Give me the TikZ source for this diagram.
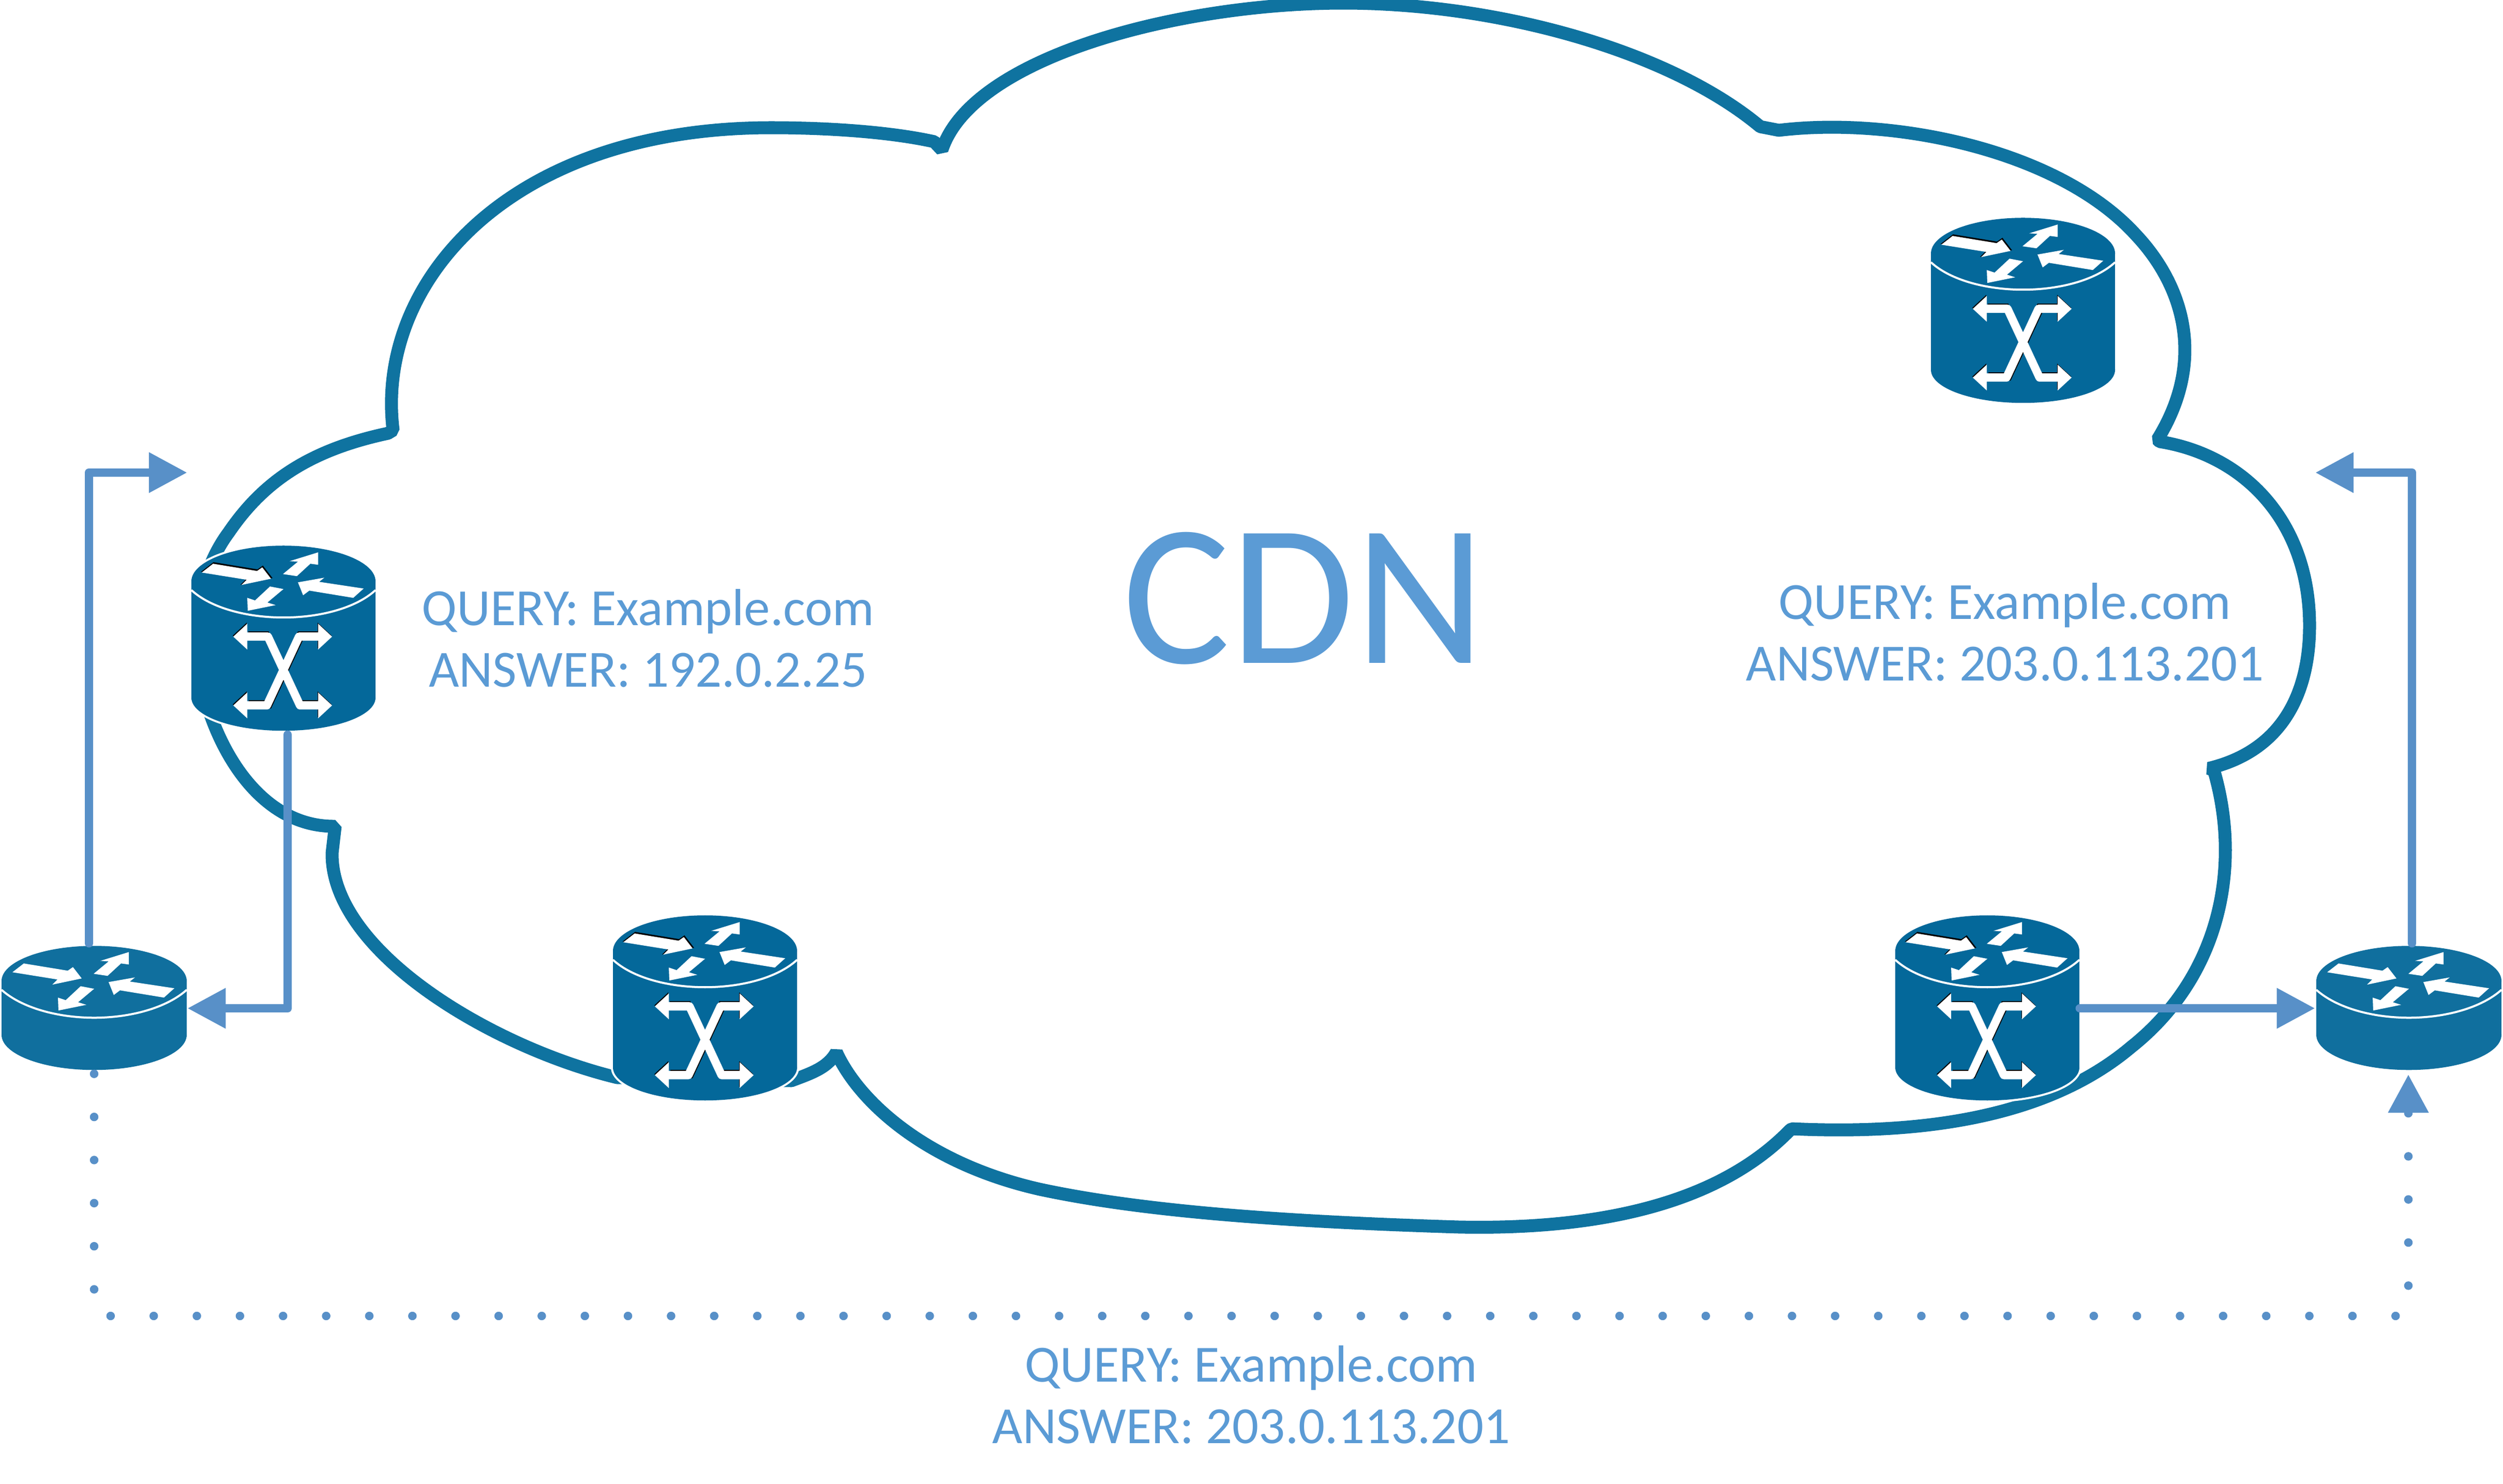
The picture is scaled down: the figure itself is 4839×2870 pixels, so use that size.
\documentclass[tikz,border=0pt]{standalone}
\usepackage{fontspec}
\setmainfont{Carlito}
\usetikzlibrary{arrows.meta}

\definecolor{cloudblue}{HTML}{0F73A0}
\definecolor{corecol}{HTML}{04689A}
\definecolor{edgecol}{HTML}{106F9E}
\definecolor{linkblue}{HTML}{5890C8}
\definecolor{textblue}{HTML}{5B9BD5}

\newcommand{\toparrows}{
    \path[fill=white] (-158,-17) -- (-136,-34) -- (-51,-20) -- (-41,-27) -- (-24,-5) -- (-81,7) -- (-71,-3) -- cycle;
    \path[fill=white] (-1,-14) -- (28,-38) -- (12,-39) -- (67,-56) -- (67,-32) -- (52,-34) -- (26,-10) -- cycle;
    \path[fill=white] (155,14) -- (135,32) -- (50,18) -- (38,27) -- (28,2) -- (79,-7) -- (69,1) -- cycle;
    \path[fill=white] (0,15) -- (-31,41) -- (-15,46) -- (-69,57) -- (-70,32) -- (-55,37) -- (-26,10) -- cycle;
}

\tikzset{
    cloudline/.style={draw=cloudblue, line width=.25cm, line join=bevel},
    link/.style={draw=linkblue, line width=.165cm, line cap=round, line join=round, -{Triangle[length=.74cm,width=.74cm,fill=linkblue]}},
    dotlink/.style={link, dash pattern=on 0pt off .833cm},
    label/.style={text=textblue, align=center, font=\fontsize{28.7}{33.8}\selectfont},
    corebox/.style={minimum width=3.56cm, minimum height=3.58cm, inner sep=0pt},
    edgebox/.style={minimum width=3.59cm, minimum height=2.40cm, inner sep=0pt},
    pics/corerouter/.style={code={
        \draw[white, line width=.08cm] (-178,0) -- (-178,225) (178,0) -- (178,225) (0,225) ellipse [x radius=178, y radius=64] (0,0) ellipse [x radius=178, y radius=69];
        \path[fill=corecol] (-178,0) rectangle (178,225);
        \path[fill=corecol] (0,225) ellipse [x radius=178, y radius=64];
        \path[fill=corecol] (0,0) ellipse [x radius=178, y radius=69];
        \draw[white, line width=.04cm] (-178,17) .. controls (-140,52) and (-70,70) .. (0,70) .. controls (70,70) and (140,52) .. (178,17);
        % shadow of the top arrow
        \draw[black, fill=black, line width=.02cm, shift={(1,-2)}] (-158,-17) -- (-136,-34) -- (-51,-20) -- (-41,-27) -- (-24,-5) -- (-81,7) -- (-71,-3) -- cycle;
        \toparrows
        % shadow of the X
        \draw[black, line width=.16cm, shift={(3,-2)}] (67,107) -- (30,107) -- (-32,240) -- (-70,240);
        \draw[black, line width=.16cm, shift={(2,-2)}] (-70,107) -- (-30,107) (32,240) -- (67,240);
        \path[fill=black, shift={(-1,-2)}] (-97,107) -- (-70,82) -- (-70,132) -- cycle;
        \path[fill=black, shift={(-1,-2)}] (94,107) -- (67,82) -- (67,132) -- cycle;
        \path[fill=black, shift={(-1,-2)}] (-97,240) -- (-70,215) -- (-70,265) -- cycle;
        \path[fill=black, shift={(-1,-2)}] (94,240) -- (67,215) -- (67,265) -- cycle;
        \draw[white, line width=.16cm, line join=round] (-70,107) -- (-30,107) -- (32,240) -- (67,240);
        \draw[white, line width=.16cm, line join=round] (67,107) -- (30,107) -- (-32,240) -- (-70,240);
        \path[fill=white] (-97,107) -- (-70,82) -- (-70,132) -- cycle;
        \path[fill=white] (94,107) -- (67,82) -- (67,132) -- cycle;
        \path[fill=white] (-97,240) -- (-70,215) -- (-70,265) -- cycle;
        \path[fill=white] (94,240) -- (67,215) -- (67,265) -- cycle;
    }},
    pics/edgerouter/.style={code={
        \path[fill=edgecol] (-179,0) rectangle (179,104);
        \path[fill=edgecol] (0,104) ellipse [x radius=179, y radius=68];
        \path[fill=edgecol] (0,0) ellipse [x radius=179, y radius=68];
        \draw[white, line width=.04cm] (-179,17) .. controls (-140,52) and (-70,71) .. (0,71) .. controls (70,71) and (140,52) .. (179,17);
        \toparrows
    }},
}

\begin{document}
\begin{tikzpicture}[x=.01cm, y=-.01cm]
    \useasboundingbox (0,0) rectangle (4839,2870);

    % cloud
    \draw[cloudline] (760,832) .. controls (725,550) and (980,247) .. (1491,247)
        .. controls (1600,247) and (1720,255) .. (1806,274) -- (1821,290)
        .. controls (1880,110) and (2280,6) .. (2597,6)
        .. controls (2900,6) and (3230,100) .. (3403,245) -- (3439,252)
        .. controls (3660,225) and (3980,290) .. (4129,454)
        .. controls (4215,545) and (4270,690) .. (4171,850) -- (4175,854)
        .. controls (4340,880) and (4465,1010) .. (4465,1210)
        .. controls (4465,1330) and (4420,1450) .. (4270,1486) -- (4280,1490)
        .. controls (4335,1680) and (4290,1890) .. (4120,2025)
        .. controls (3960,2160) and (3720,2195) .. (3464,2183) -- (3460,2186)
        .. controls (3310,2340) and (3060,2378) .. (2820,2373)
        .. controls (2500,2363) and (2220,2345) .. (2010,2300)
        .. controls (1790,2250) and (1660,2130) .. (1617,2035)
        .. controls (1600,2065) and (1570,2075) .. (1530,2090) -- (1193,2084)
        .. controls (950,2025) and (640,1840) .. (642,1650) -- (648,1598)
        .. controls (500,1600) and (410,1440) .. (385,1300)
        .. controls (370,1200) and (390,1100) .. (442,1030)
        .. controls (510,930) and (600,870) .. (750,838) -- cycle;

    % routers
    \node[corebox] (coreA) at (548,1235) {};
    \node[corebox] (coreB) at (1363,1950) {};
    \node[corebox] (coreC) at (3911,601) {};
    \node[corebox] (coreD) at (3842,1950) {};
    \node[edgebox] (edgeL) at (182,1950) {};
    \node[edgebox] (edgeR) at (4657,1950) {};
    \pic at ([yshift=-.69cm]coreA.north) {corerouter};
    \pic at ([yshift=-.69cm]coreB.north) {corerouter};
    \pic at ([yshift=-.69cm]coreC.north) {corerouter};
    \pic at ([yshift=-.69cm]coreD.north) {corerouter};
    \pic at ([yshift=-.68cm]edgeL.north) {edgerouter};
    \pic at ([yshift=-.68cm]edgeR.north) {edgerouter};

    % free ends of the links
    \coordinate (inL) at (362,914);
    \coordinate (inR) at (4476,914);
    \coordinate (dotL) at (182,2545);
    \coordinate (dotR) at (4656,2545);

    \draw[link] ([xshift=-.1cm,yshift=.05cm]edgeL.north) |- (inL);
    \draw[link] ([xshift=.08cm,yshift=-.06cm]coreA.south) |- (edgeL.east);
    \draw[link] (coreD.east) -- ([xshift=-.01cm]edgeR.west);
    \draw[link] ([xshift=.06cm,yshift=.05cm]edgeR.north) |- (inR);
    \draw[dotlink] ([yshift=-.06cm]edgeL.south) -- (dotL) -- (dotR) -- ([xshift=-.01cm,yshift=-.07cm]edgeR.south);

    % labels
    \node[label] (askA) at (1253,1234) {QUERY: Example.com\\ANSWER: 192.0.2.25};
    \node[label] (askB) at (3876,1222) {QUERY: Example.com\\ANSWER: 203.0.113.201};
    \node[label] (askC) at (2419,2697) {QUERY: Example.com\\ANSWER: 203.0.113.201};
    \node[text=textblue, font=\fontsize{111}{120}\selectfont] (title) at (2521,1157) {CDN};
\end{tikzpicture}
\end{document}
